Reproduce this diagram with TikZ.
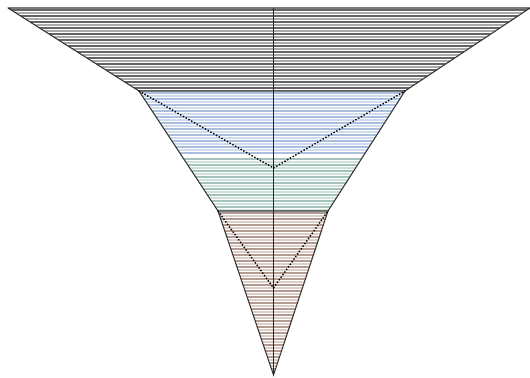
\documentclass[tikz,border=0pt]{standalone}
\usepackage{tikz}
\usetikzlibrary{positioning}
\definecolor{TopDark}{RGB}{100,100,100}
\definecolor{TopLight}{RGB}{170,170,170}
\definecolor{MidBlue}{RGB}{170,190,222}
\definecolor{MidBlueLight}{RGB}{205,220,238}
\definecolor{MidGreen}{RGB}{165,195,188}
\definecolor{MidGreenLight}{RGB}{205,225,220}
\definecolor{LowBrown}{RGB}{180,155,145}
\definecolor{LowPink}{RGB}{220,205,200}

\begin{document}
\begin{tikzpicture}[x=0.02cm, y=-0.02cm]
    \useasboundingbox (0,0) rectangle (530,378);

    % Corners of the funnel
    \coordinate (tl) at (8,8);
    \coordinate (tr) at (530,8);
    \coordinate (ml) at (139,91);
    \coordinate (mr) at (405,91);
    \coordinate (bl) at (218,211);
    \coordinate (br) at (328,211);
    \coordinate (tip) at (273.5,375);
    \coordinate (top) at (273.5,8);
    \coordinate (vmid) at (273.5,168);
    \coordinate (vlow) at (273.5,288);

    % Top band
    \begin{scope}
        \clip (tl) -- (tr) -- (mr) -- (ml) -- cycle;
        \foreach \y in {10,16,...,92} \draw[TopDark, line width=0.6pt] (0,\y) -- (530,\y);
        \foreach \y in {13,19,...,92} \draw[TopLight, line width=0.6pt] (0,\y) -- (530,\y);
    \end{scope}

    % Middle band (blue, then green)
    \begin{scope}
        \clip (ml) -- (mr) -- (br) -- (bl) -- cycle;
        \foreach \y in {93,99,...,155} \draw[MidBlue, line width=0.6pt] (0,\y) -- (530,\y);
        \foreach \y in {96,102,...,155} \draw[MidBlueLight, line width=0.6pt] (0,\y) -- (530,\y);
        \foreach \y in {159,165,...,212} \draw[MidGreen, line width=0.6pt] (0,\y) -- (530,\y);
        \foreach \y in {162,168,...,212} \draw[MidGreenLight, line width=0.6pt] (0,\y) -- (530,\y);
    \end{scope}

    % Lower triangle
    \begin{scope}
        \clip (bl) -- (br) -- (tip) -- cycle;
        \foreach \y in {213,219,...,376} \draw[LowBrown, line width=0.6pt] (0,\y) -- (530,\y);
        \foreach \y in {216,222,...,376} \draw[LowPink, line width=0.6pt] (0,\y) -- (530,\y);
    \end{scope}

    % Outlines
    \draw[black!80, line width=0.6pt, line join=round] (tl) -- (tr) -- (mr) -- (ml) -- cycle;
    \draw[black!80, line width=0.6pt] (ml) -- (bl) -- (br) -- (mr);
    \draw[black!80, line width=0.6pt] (bl) -- (tip) -- (br);
    \draw[black!85, line width=0.8pt] (top) -- (tip);

    % Dotted guides
    \draw[densely dotted, line width=0.8pt] (ml) -- (vmid) -- (mr);
    \draw[densely dotted, line width=0.8pt] (bl) -- (vlow) -- (br);
\end{tikzpicture}
\end{document}
